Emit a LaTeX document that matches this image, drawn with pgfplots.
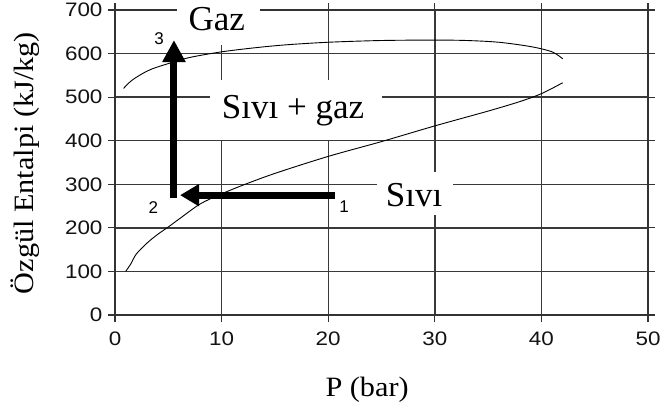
\documentclass[border=0pt]{standalone}
\usepackage{fontspec}
\setmainfont{Liberation Serif}
\newfontfamily\arialw{Liberation Sans}[FakeStretch=1.15]
\newfontfamily\arial{Liberation Sans}
\newfontfamily\timesw{Liberation Serif}[FakeStretch=1.08]
\usepackage{pgfplots}
\pgfplotsset{compat=1.18}
\usetikzlibrary{arrows.meta}
\begin{document}
\begin{tikzpicture}
\useasboundingbox (-115pt,-99pt) rectangle (545pt,315pt);
\begin{axis}[
  at={(0,0)}, anchor=south west,
  scale only axis, width=533pt, height=305pt,
  xmin=0, xmax=50, ymin=0, ymax=700,
  xtick={0,10,...,50}, ytick={0,100,...,700},
  grid=major,
  major grid style={gray!45!black, line width=1.4pt},
  axis line style={gray!40!black, line width=1.5pt},
  tick style={gray!40!black, line width=1.2pt},
  tick align=outside, major tick length=7pt,
  tick label style={font=\arialw\fontsize{19.5}{20}\selectfont, text=gray!15!black},
  xticklabel style={yshift=-6pt},
  yticklabel style={xshift=-2pt},
  /pgf/number format/assume math mode=true,
  xlabel={P (bar)}, ylabel={Özgül Entalpi (kJ/kg)},
  label style={font=\timesw\fontsize{28}{30}\selectfont},
  xlabel style={at={(axis description cs:0.473,-0.245)}, anchor=center},
  ylabel style={at={(axis description cs:-0.169,0.498)}, anchor=center},
  clip=false,
]
% white boxes behind the region names
\fill[white] (axis cs:5.8,620) rectangle (axis cs:13.6,722);
\fill[white] (axis cs:8.9,402) rectangle (axis cs:25.05,539);
\fill[white] (axis cs:24.6,230) rectangle (axis cs:31.7,328);
% saturated vapour curve
\addplot[black, line width=0.9pt, smooth] coordinates {
 (0.8,520) (1.5,537) (2.5,553) (3.5,565) (5,577) (7,591) (10,604) (13,613)
 (16,620) (20,626) (25,630) (30,631) (33,630) (36,626) (39,616) (41,604) (42,588)};
% saturated liquid curve
\addplot[black, line width=0.9pt, smooth] coordinates {
 (1,100) (1.5,118) (2,140) (3,165) (4,185) (5,202) (6,220) (8,255) (10,278)
 (12,298) (15,325) (20,364) (25,398) (30,434) (35,468) (38,490) (40,508) (42,533)};
% process arrows
\addplot[black, line width=7pt, -{Triangle[length=19pt,width=21pt]}] coordinates {(20.6,275) (6.1,275)};
\addplot[black, line width=7pt, -{Triangle[length=22pt,width=22pt]}] coordinates {(5.53,268.5) (5.53,631)};
% labels
\node[font=\arial\fontsize{17}{17}\selectfont] at (axis cs:21.5,248) {1};
\node[font=\arial\fontsize{17}{17}\selectfont] at (axis cs:3.6,246) {2};
\node[font=\arial\fontsize{17}{17}\selectfont] at (axis cs:4.13,635) {3};
\node[anchor=base, inner sep=0pt, font=\fontsize{35}{36}\selectfont] at (axis cs:9.55,654) {Gaz};
\node[anchor=base, inner sep=0pt, font=\fontsize{35}{36}\selectfont] at (axis cs:16.7,452) {Sıvı + gaz};
\node[anchor=base, inner sep=0pt, font=\fontsize{35}{36}\selectfont] at (axis cs:28.06,248) {Sıvı};
\end{axis}
\end{tikzpicture}
\end{document}
